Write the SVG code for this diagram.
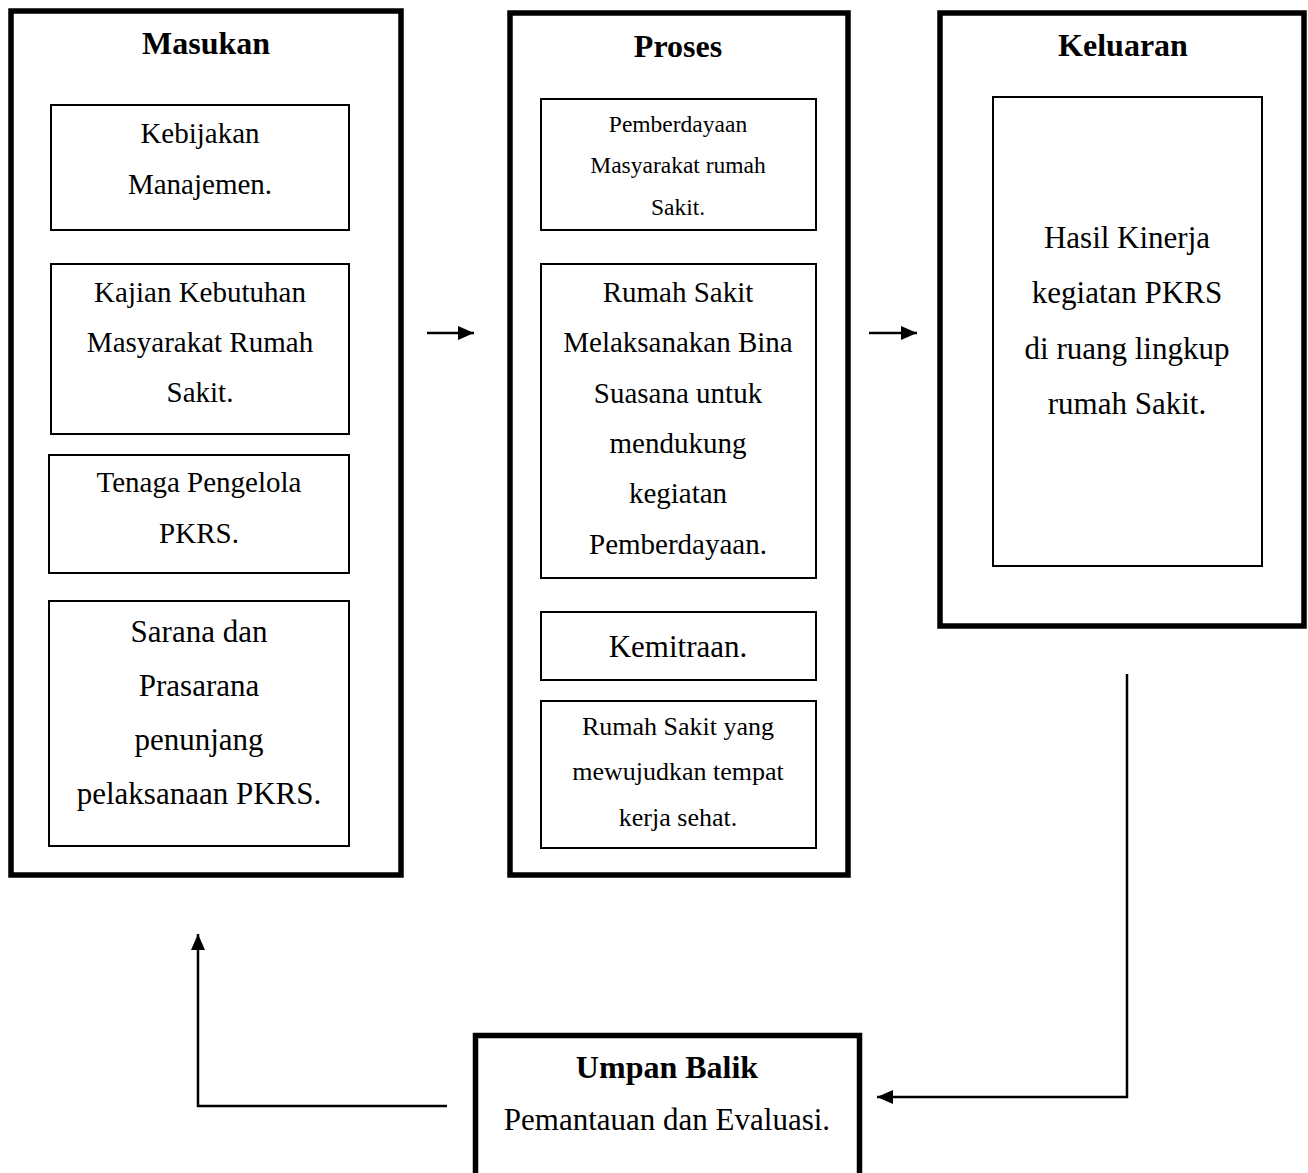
<svg xmlns="http://www.w3.org/2000/svg" width="1308" height="1173" viewBox="0 0 1308 1173">
  <style>
    .outer { fill: #ffffff; stroke: #000000; stroke-width: 5.5; }
    .inner { fill: #ffffff; stroke: #000000; stroke-width: 2; }
    text { font-family: "Liberation Serif", "Times New Roman", serif; fill: #000000; text-anchor: middle; }
    .title { font-weight: bold; font-size: 32px; }
    .t29 { font-size: 29px; }
    .t31 { font-size: 31px; }
    .t235 { font-size: 23.5px; }
    .t26 { font-size: 26px; }
    .conn { fill: none; stroke: #000000; stroke-width: 2.5; }
  </style>
  <defs>
    <marker id="arrow" viewBox="0 0 16 14" refX="16" refY="7" markerWidth="16" markerHeight="14" markerUnits="userSpaceOnUse" orient="auto">
      <path d="M0,0 L16,7 L0,14 Z" fill="#000000"/>
    </marker>
  </defs>
  <rect x="0" y="0" width="1308" height="1173" fill="#ffffff"/>

  <g id="masukan">
    <rect class="outer" x="11" y="11" width="390" height="864"/>
    <text class="title" x="206" y="54">Masukan</text>
    <g id="kebijakan">
      <rect class="inner" x="51" y="105" width="298" height="125"/>
      <text class="t29" x="200" y="143">Kebijakan</text>
      <text class="t29" x="200" y="194">Manajemen.</text>
    </g>
    <g id="kajian">
      <rect class="inner" x="51" y="264" width="298" height="170"/>
      <text class="t29" x="200" y="302">Kajian Kebutuhan</text>
      <text class="t29" x="200" y="352">Masyarakat Rumah</text>
      <text class="t29" x="200" y="402">Sakit.</text>
    </g>
    <g id="tenaga">
      <rect class="inner" x="49" y="455" width="300" height="118"/>
      <text class="t29" x="199" y="492">Tenaga Pengelola</text>
      <text class="t29" x="199" y="543">PKRS.</text>
    </g>
    <g id="sarana">
      <rect class="inner" x="49" y="601" width="300" height="245"/>
      <text class="t31" x="199" y="642">Sarana dan</text>
      <text class="t31" x="199" y="696">Prasarana</text>
      <text class="t31" x="199" y="750">penunjang</text>
      <text class="t31" x="199" y="804">pelaksanaan PKRS.</text>
    </g>
  </g>

  <g id="proses">
    <rect class="outer" x="510" y="13" width="338" height="862"/>
    <text class="title" x="678" y="57">Proses</text>
    <g id="pemberdayaan">
      <rect class="inner" x="541" y="99" width="275" height="131"/>
      <text class="t235" x="678" y="132">Pemberdayaan</text>
      <text class="t235" x="678" y="173">Masyarakat rumah</text>
      <text class="t235" x="678" y="215">Sakit.</text>
    </g>
    <g id="bina-suasana">
      <rect class="inner" x="541" y="264" width="275" height="314"/>
      <text class="t29" x="678" y="302">Rumah Sakit</text>
      <text class="t29" x="678" y="352">Melaksanakan Bina</text>
      <text class="t29" x="678" y="403">Suasana untuk</text>
      <text class="t29" x="678" y="453">mendukung</text>
      <text class="t29" x="678" y="503">kegiatan</text>
      <text class="t29" x="678" y="554">Pemberdayaan.</text>
    </g>
    <g id="kemitraan">
      <rect class="inner" x="541" y="612" width="275" height="68"/>
      <text class="t31" x="678" y="657">Kemitraan.</text>
    </g>
    <g id="tempat-kerja">
      <rect class="inner" x="541" y="701" width="275" height="147"/>
      <text class="t26" x="678" y="735">Rumah Sakit yang</text>
      <text class="t26" x="678" y="780">mewujudkan tempat</text>
      <text class="t26" x="678" y="826">kerja sehat.</text>
    </g>
  </g>

  <g id="keluaran">
    <rect class="outer" x="940" y="13" width="364" height="613"/>
    <text class="title" x="1123" y="56">Keluaran</text>
    <g id="hasil">
      <rect class="inner" x="993" y="97" width="269" height="469"/>
      <text class="t31" x="1127" y="248">Hasil Kinerja</text>
      <text class="t31" x="1127" y="303">kegiatan PKRS</text>
      <text class="t31" x="1127" y="359">di ruang lingkup</text>
      <text class="t31" x="1127" y="414">rumah Sakit.</text>
    </g>
  </g>

  <g id="umpan-balik">
    <rect class="outer" x="475.5" y="1035.5" width="384" height="200"/>
    <text class="title" x="667" y="1078">Umpan Balik</text>
    <text class="t31" x="667" y="1130">Pemantauan dan Evaluasi.</text>
  </g>

  <g id="connectors">
    <line class="conn" x1="427" y1="333" x2="474" y2="333" marker-end="url(#arrow)"/>
    <line class="conn" x1="869" y1="333" x2="917" y2="333" marker-end="url(#arrow)"/>
    <polyline class="conn" points="1127,674 1127,1097 877,1097" marker-end="url(#arrow)"/>
    <polyline class="conn" points="447,1106 198,1106 198,934" marker-end="url(#arrow)"/>
  </g>
</svg>
